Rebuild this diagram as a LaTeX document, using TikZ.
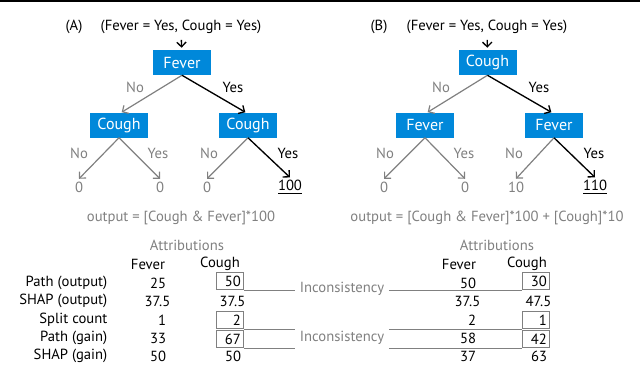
\documentclass[tikz,border=0pt]{standalone}
\usepackage{fontspec}
\setmainfont{PT Sans}
\usetikzlibrary{arrows.meta, positioning}
\definecolor{featblue}{RGB}{0,136,218}
\definecolor{dimgray}{RGB}{128,128,128}

\begin{document}
\begin{tikzpicture}[
    x=0.75pt, y=-0.75pt,
    font=\fontsize{11}{13}\selectfont,
    feat/.style={fill=featblue, text=white, minimum width=43.5pt, minimum height=18.75pt, inner sep=0pt, font=\fontsize{12}{14}\selectfont},
    yesedge/.style={->, black, line width=1pt},
    noedge/.style={->, dimgray, line width=0.9pt},
    leaf/.style={text=dimgray, inner sep=2pt},
    lbl/.style={text=dimgray},
    val/.style={anchor=east, inner xsep=2pt, inner ysep=0pt, text width=16pt, align=right, minimum height=12.75pt},
    valbox/.style={val, draw=dimgray, line width=0.8pt},
    inc/.style={dimgray, line width=0.8pt},
    >={Straight Barb[length=3.5pt, width=7pt]}
]
\useasboundingbox (0,0) rectangle (640,368);
\draw[line width=1.5pt] (0,1) -- (640,1);

% (A) tree
\node (labA) at (74,27) {(A)};
\node (inA) at (181,27) {(Fever = Yes, Cough = Yes)};
\node[feat] (rootA) at (182,62.5) {Fever};
\node[feat] (lA) at (119,125) {Cough};
\node[feat] (rA) at (248,125) {Cough};
\node[leaf] (llA) at (79,187) {0};
\node[leaf] (lrA) at (160,187) {0};
\node[leaf] (rlA) at (207,187) {0};
\node[inner sep=2pt] (rrA) at (290,187) {\underline{100}};
\draw[->, line width=1pt, shorten <=1pt, shorten >=1.5pt] (inA) -- (rootA);
\draw[noedge] (rootA.south) -- ([xshift=2pt]lA.north);
\draw[yesedge] (rootA.south) -- ([xshift=-2pt]rA.north);
\draw[noedge] (lA.south) -- (llA.north);
\draw[noedge] (lA.south) -- (lrA.north);
\draw[noedge] (rA.south) -- (rlA.north);
\draw[yesedge] (rA.south) -- (rrA.north);
\node[lbl] (noA1) at (135,87) {No};
\node (yesA1) at (233,87) {Yes};
\node[lbl] (noA2) at (79,153) {No};
\node[lbl] (yesA2) at (158,153) {Yes};
\node[lbl] (noA3) at (209,153) {No};
\node (yesA3) at (288,153) {Yes};

% (B) tree
\node (labB) at (379,27) {(B)};
\node (inB) at (487,27) {(Fever = Yes, Cough = Yes)};
\node[feat] (rootB) at (487.5,62.5) {Cough};
\node[feat] (lB) at (425,125) {Fever};
\node[feat] (rB) at (554,125) {Fever};
\node[leaf] (llB) at (384,187) {0};
\node[leaf] (lrB) at (465,187) {0};
\node[leaf] (rlB) at (516,187) {10};
\node[inner sep=2pt] (rrB) at (595,187) {\underline{110}};
\draw[->, line width=1pt, shorten <=1pt, shorten >=1.5pt] (inB) -- (rootB);
\draw[noedge] (rootB.south) -- ([xshift=2pt]lB.north);
\draw[yesedge] (rootB.south) -- ([xshift=-2pt]rB.north);
\draw[noedge] (lB.south) -- (llB.north);
\draw[noedge] (lB.south) -- (lrB.north);
\draw[noedge] (rB.south) -- (rlB.north);
\draw[yesedge] (rB.south) -- (rrB.north);
\node[lbl] (noB1) at (441,87) {No};
\node (yesB1) at (539,87) {Yes};
\node[lbl] (noB2) at (385,153) {No};
\node[lbl] (yesB2) at (464,153) {Yes};
\node[lbl] (noB3) at (514,153) {No};
\node (yesB3) at (594,153) {Yes};

% formulas
\node[lbl] (outA) at (181,218) {output = [Cough \& Fever]*100};
\node[lbl] (outB) at (487,218) {output = [Cough \& Fever]*100 + [Cough]*10};

% attribution table (A)
\node[lbl] (attA) at (187,245) {Attributions};
\node (fevA) at (148,264) {Fever};
\node (couA) at (220,264) {Cough};
\node[anchor=east] (rowP) at (112,283) {Path (output)};
\node[anchor=east] (rowS) at (112,301) {SHAP (output)};
\node[anchor=east] (rowC) at (112,320) {Split count};
\node[anchor=east] (rowG) at (112,338) {Path (gain)};
\node[anchor=east] (rowH) at (112,356) {SHAP (gain)};
\node[val] (fA1) at (169,283) {25};
\node[val] (fA2) at (169,301) {37.5};
\node[val] (fA3) at (169,320) {1};
\node[val] (fA4) at (169,338) {33};
\node[val] (fA5) at (169,356) {50};
\node[valbox] (cA1) at (244,281) {50};
\node[val] (cA2) at (244,301) {37.5};
\node[valbox] (cA3) at (244,320) {2};
\node[valbox] (cA4) at (244,339) {67};
\node[val] (cA5) at (244,356) {50};

% attribution table (B)
\node[lbl] (attB) at (497,245) {Attributions};
\node (fevB) at (459,264) {Fever};
\node (couB) at (527,264) {Cough};
\node[val] (fB1) at (479,283) {50};
\node[val] (fB2) at (479,301) {37.5};
\node[val] (fB3) at (479,320) {2};
\node[val] (fB4) at (479,338) {58};
\node[val] (fB5) at (479,356) {37};
\node[valbox] (cB1) at (550,281) {30};
\node[val] (cB2) at (550,301) {47.5};
\node[valbox] (cB3) at (550,320) {1};
\node[valbox] (cB4) at (550,339) {42};
\node[val] (cB5) at (550,356) {63};

% inconsistencies
\node[lbl] (inc1) at (342,289) {Inconsistency};
\node[lbl] (inc2) at (342,338) {Inconsistency};
\draw[inc] (cA1.south east) -- (cA1.south east -| inc1.west);
\draw[inc] (inc1.east |- cB1.south west) -- (cB1.south west);
\draw[inc] (cA3.south east) -- (cA3.south east -| inc2.west);
\draw[inc] (inc2.east |- cB3.south west) -- (cB3.south west);
\draw[inc] (cA4.south east) -- (cA4.south east -| inc2.west);
\draw[inc] (inc2.east |- cB4.south west) -- (cB4.south west);
\end{tikzpicture}
\end{document}
